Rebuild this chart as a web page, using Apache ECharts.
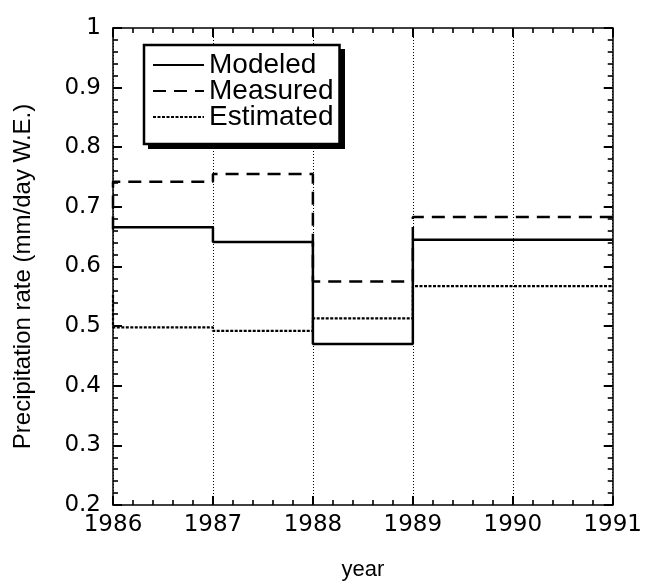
<!DOCTYPE html>
<html>
<head>
<meta charset="utf-8">
<script src="https://cdn.jsdelivr.net/npm/echarts@6/dist/echarts.min.js"></script>
<style>
html,body{margin:0;padding:0;background:#fff;}
#chart{width:645px;height:587px;}
</style>
</head>
<body>
<div id="chart"></div>
<script>
// Data
const years = [1986, 1987, 1988, 1989, 1990, 1991];
const modeled = [0.666, 0.641, 0.470, 0.645, 0.645];
const measured = [0.742, 0.755, 0.575, 0.683, 0.683];
const estimated = [0.498, 0.492, 0.513, 0.567, 0.567];
const measuredStart = 0.662;   // level before 1986 (vertical edge at 1986)
const estimatedStart = 0.552;  // level before 1986
const yTicks = [0.2, 0.3, 0.4, 0.5, 0.6, 0.7, 0.8, 0.9, 1];

function stepData(vals, start) {
  const d = [];
  if (start !== undefined) d.push([years[0], start]);
  vals.forEach((v, i) => d.push([years[i], v]));
  d.push([years[years.length - 1], vals[vals.length - 1]]);
  return d;
}

const FONT = 'Liberation Sans, Arial, Helvetica, sans-serif';
const NUMFONT = 'DejaVu Sans, sans-serif';
const chart = echarts.init(document.getElementById('chart'));

function axisBase() {
  return {
    axisLine: { show: true, onZero: false, lineStyle: { color: '#000', width: 1.5 } },
    axisTick: { show: true, inside: true, length: 9, lineStyle: { color: '#000', width: 2 } },
    minorTick: { show: true, splitNumber: 5, length: 5, lineStyle: { color: '#000', width: 1.6 } },
    minorSplitLine: { show: false }
  };
}

chart.setOption({
  animation: false,
  backgroundColor: '#fff',
  grid: { left: 113, right: 29, top: 28, bottom: 82 },
  legend: {
    orient: 'vertical',
    left: 144, top: 45,
    data: ['Modeled', 'Measured', 'Estimated'],
    itemWidth: 51, itemHeight: 14, itemGap: -2,
    padding: [6, 6, 13, 8],
    backgroundColor: '#fff',
    borderColor: '#000', borderWidth: 2.5, borderRadius: 0,
    itemStyle: { color: 'rgba(0,0,0,0)', borderColor: 'rgba(0,0,0,0)', borderWidth: 0 },
    textStyle: { fontFamily: FONT, fontSize: 28, color: '#000', lineHeight: 26 },
    z: 10
  },
  graphic: [
    { type: 'rect', left: 148, top: 49, z: 9,
      shape: { width: 197, height: 100 }, style: { fill: '#000' } }
  ],
  xAxis: [
    Object.assign(axisBase(), {
      type: 'value', min: 1986, max: 1991, interval: 1,
      name: 'year', nameLocation: 'middle', nameGap: 54,
      nameTextStyle: { fontFamily: FONT, fontSize: 22, color: '#000' },
      axisLabel: { fontFamily: NUMFONT, fontSize: 23, color: '#000', margin: 9, formatter: v => String(v) },
      splitLine: { show: true, lineStyle: { color: '#000', type: [1, 2], width: 1 } }
    }),
    Object.assign(axisBase(), {
      type: 'value', min: 1986, max: 1991, interval: 1, position: 'top',
      axisLabel: { show: false }, splitLine: { show: false }
    })
  ],
  yAxis: [
    Object.assign(axisBase(), {
      type: 'value', min: 0.2, max: 1, interval: 0.1,
      name: 'Precipitation rate (mm/day W.E.)', nameLocation: 'middle', nameGap: 78,
      nameTextStyle: { fontFamily: FONT, fontSize: 24, color: '#000', padding: [0, 20, 0, 0] },
      axisLabel: { fontFamily: NUMFONT, fontSize: 23, color: '#000', margin: 12,
        formatter: v => { const t = yTicks.find(k => Math.abs(k - v) < 1e-6); return t === undefined ? '' : String(t); } },
      splitLine: { show: false }
    }),
    Object.assign(axisBase(), {
      type: 'value', min: 0.2, max: 1, interval: 0.1, position: 'right',
      axisLabel: { show: false }, splitLine: { show: false }
    })
  ],
  series: [
    { name: 'Modeled', type: 'line', step: 'end', symbol: 'none',
      data: stepData(modeled), z: 3,
      lineStyle: { color: '#000', width: 2.5, type: 'solid' }, itemStyle: { color: '#000' } },
    { name: 'Measured', type: 'line', step: 'end', symbol: 'none',
      data: stepData(measured, measuredStart), z: 3,
      lineStyle: { color: '#000', width: 2.5, type: [13, 8] }, itemStyle: { color: '#000' } },
    { name: 'Estimated', type: 'line', step: 'end', symbol: 'none',
      data: stepData(estimated, estimatedStart), z: 3,
      lineStyle: { color: '#000', width: 2.2, type: [3, 1.5] }, itemStyle: { color: '#000' } }
  ]
});
</script>
</body>
</html>
